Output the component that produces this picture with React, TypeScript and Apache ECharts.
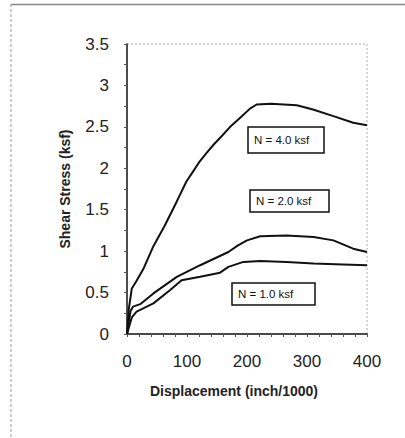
import React, { useEffect, useRef } from "react";
import * as echarts from "echarts";

const xN4 = [0, 3, 8, 15, 27, 44, 63, 83, 99, 110, 120, 132, 145, 158, 172, 190, 205, 216, 240, 283, 310, 344, 377, 400];
const yN4 = [0, 0.3, 0.55, 0.63, 0.78, 1.06, 1.31, 1.6, 1.84, 1.96, 2.07, 2.18, 2.29, 2.39, 2.5, 2.62, 2.72, 2.77, 2.78, 2.76, 2.71, 2.63, 2.55, 2.52];
const xN2 = [0, 2, 6, 10, 22, 44, 83, 122, 169, 185, 200, 222, 266, 311, 344, 377, 400];
const yN2 = [0, 0.1, 0.28, 0.33, 0.36, 0.49, 0.69, 0.83, 0.99, 1.07, 1.13, 1.18, 1.19, 1.17, 1.13, 1.03, 0.99];
const xN1 = [0, 4, 8, 16, 44, 72, 91, 122, 155, 169, 194, 222, 266, 311, 360, 400];
const yN1 = [0, 0.1, 0.2, 0.27, 0.37, 0.53, 0.65, 0.69, 0.74, 0.81, 0.87, 0.88, 0.87, 0.85, 0.84, 0.83];

const seriesNames = ["N = 4.0 ksf", "N = 2.0 ksf", "N = 1.0 ksf"];
const xTitle = "Displacement (inch/1000)";
const yTitle = "Shear Stress (ksf)";

const zip = (xs: number[], ys: number[]) => xs.map((x, i) => [x, ys[i]]);

const labelBox = (text: string, x: number, y: number, w: number, h: number) => ({
  type: "group",
  x,
  y,
  children: [
    { type: "rect", shape: { x: 0, y: 0, width: w, height: h }, style: { fill: "#fff", stroke: "#111", lineWidth: 1.5 } },
    {
      type: "text",
      x: 6,
      y: h / 2,
      style: { text, fill: "#111", font: "11.5px 'Liberation Sans', Arial, sans-serif", verticalAlign: "middle" },
    },
  ],
});

export default function App() {
  const ref = useRef<HTMLDivElement>(null);
  useEffect(() => {
    const chart = echarts.init(ref.current!, undefined, { renderer: "svg" });
    const font = "'Liberation Sans', Arial, sans-serif";
    chart.setOption({
      animation: false,
      backgroundColor: "#fff",
      grid: { left: 127, right: 38, top: 44, bottom: 104, show: false },
      xAxis: {
        type: "value",
        min: 0,
        max: 400,
        interval: 100,
        axisLine: { show: true, onZero: false, lineStyle: { color: "#111", width: 1.5 } },
        axisTick: { show: true, inside: false, length: 3, lineStyle: { color: "#555" } },
        minorTick: { show: true, splitNumber: 5, length: 3, lineStyle: { color: "#555" } },
        splitLine: { show: false },
        axisLabel: { fontSize: 17, color: "#222", fontFamily: font, margin: 19 },
      },
      yAxis: {
        type: "value",
        min: 0,
        max: 3.5,
        interval: 0.5,
        axisLine: { show: true, onZero: false, lineStyle: { color: "#111", width: 1.5 } },
        axisTick: { show: true, inside: false, length: 3, lineStyle: { color: "#555" } },
        minorTick: { show: true, splitNumber: 2, length: 3, lineStyle: { color: "#555" } },
        splitLine: { show: false },
        axisLabel: { fontSize: 17, color: "#222", fontFamily: font, margin: 18 },
        name: yTitle,
        nameLocation: "middle",
        nameGap: 55,
        nameRotate: 90,
        nameTextStyle: { fontSize: 14, fontWeight: "bold", color: "#222", fontFamily: font },
      },
      series: [
        { name: seriesNames[0], data: zip(xN4, yN4) },
        { name: seriesNames[1], data: zip(xN2, yN2) },
        { name: seriesNames[2], data: zip(xN1, yN1) },
      ].map((s) => ({
        ...s,
        type: "line",
        showSymbol: false,
        symbol: "none",
        lineStyle: { color: "#111", width: 2 },
      })),
      graphic: [
        { type: "line", shape: { x1: 11, y1: 4.5, x2: 405, y2: 4.5 }, style: { stroke: "#888", lineWidth: 1.5 } },
        { type: "line", shape: { x1: 11, y1: 4, x2: 11, y2: 438 }, style: { stroke: "#999", lineWidth: 1, lineDash: [3, 2] } },
        { type: "line", shape: { x1: 127, y1: 44, x2: 367, y2: 44 }, style: { stroke: "#aaa", lineWidth: 1, lineDash: [2, 2] } },
        { type: "line", shape: { x1: 367, y1: 44, x2: 367, y2: 334 }, style: { stroke: "#aaa", lineWidth: 1, lineDash: [2, 2] } },
        {
          type: "text",
          x: 234,
          y: 391,
          style: {
            text: xTitle,
            fill: "#222",
            font: "bold 14px 'Liberation Sans', Arial, sans-serif",
            align: "center",
            verticalAlign: "middle",
          },
        },
        labelBox(seriesNames[0], 248, 127, 76, 26),
        labelBox(seriesNames[1], 250, 190, 79, 22),
        labelBox(seriesNames[2], 232, 283, 83, 22),
      ],
    });
    return () => chart.dispose();
  }, []);
  return <div ref={ref} style={{ position: "fixed", left: 0, top: 0, width: 405, height: 438 }} />;
}
